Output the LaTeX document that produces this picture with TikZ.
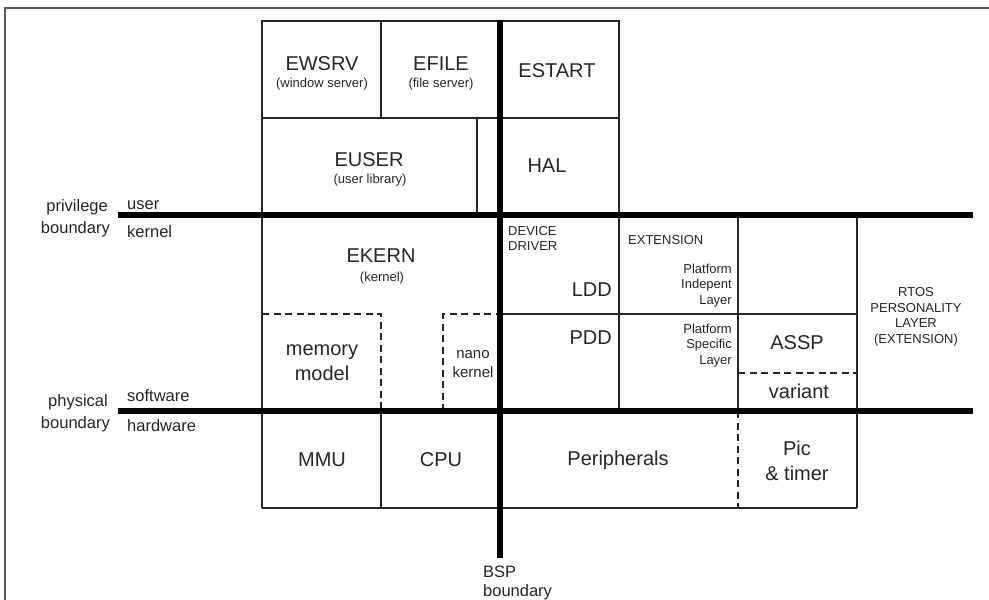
\documentclass[tikz,border=0pt]{standalone}
\usepackage{fontspec}
\setmainfont{Liberation Sans}
\begin{document}
\begin{tikzpicture}[x=1pt,y=-1pt,
  thinline/.style={line width=1.1pt, draw=black!85},
  bound/.style={line width=6.5pt, draw=black},
  dashline/.style={line width=1.1pt, draw=black!85, dash pattern=on 7pt off 4.5pt},
  big/.style={font=\fontsize{20}{25}\selectfont, text=black!85, inner sep=0pt, align=center},
  small/.style={font=\fontsize{13}{15.5}\selectfont, text=black!85, inner sep=0pt},
  nano/.style={font=\fontsize{15}{19}\selectfont, text=black!85, inner sep=0pt, align=center},
  side/.style={font=\fontsize{16.5}{21}\selectfont, text=black!85, inner sep=0pt}]
\useasboundingbox (0,0) rectangle (989,600);
% outer frame
\draw[line width=1.4pt, black!65] (5,605) -- (5,8) -- (995,8);

% thin solid box lines
\draw[thinline] (262,508) -- (262,21) -- (619,21) -- (619,411);
\draw[thinline] (381,21) -- (381,118);
\draw[thinline] (262,118) -- (619,118);
\draw[thinline] (477,118) -- (477,215);
\draw[thinline] (500,314) -- (857,314);
\draw[thinline] (738,215) -- (738,411);
\draw[thinline] (857,215) -- (857,508);
\draw[thinline] (262,508) -- (857,508);
\draw[thinline] (381,411) -- (381,508);
% dashed lines
\draw[dashline] (262,314) -- (381,314) -- (381,411);
\draw[dashline] (443,411) -- (443,314) -- (500,314);
\draw[dashline] (738,373) -- (857,373);
\draw[dashline] (738,411) -- (738,508);

% boundaries
\draw[bound] (118,215) -- (973,215);
\draw[bound] (118,411) -- (973,411);
\draw[bound] (500,20) -- (500,558);

% user space
\node[big] (ewsrv) at (322,63.5) {EWSRV};
\node[small] (ewsrvs) at (322,84) {(window server)};
\node[big] (efile) at (441,63.5) {EFILE};
\node[small] (efiles) at (441,84) {(file server)};
\node[big] (estart) at (557,70.5) {ESTART};
\node[big] (euser) at (369,159.5) {EUSER};
\node[small] (eusers) at (370,180) {(user library)};
\node[big] (hal) at (547,165.5) {HAL};

% kernel
\node[big] (ekern) at (381,256) {EKERN};
\node[small] (ekerns) at (382,278.5) {(kernel)};
\node[small, align=left, anchor=north west] (dd) at (508,226) {DEVICE\\DRIVER};
\node[big, anchor=east] (ldd) at (612,289.5) {LDD};
\node[big, anchor=east] (pdd) at (612,337.5) {PDD};
\node[big, anchor=base] (mem) at (322,380) {memory\\model};
\node[nano, anchor=base] (nk) at (473,377) {nano\\kernel};
\node[small, anchor=west] (ext) at (628,240) {EXTENSION};
\node[small, align=right, anchor=base east] (pil) at (732,304) {Platform\\Indepent\\Layer};
\node[small, align=right, anchor=base east] (psl) at (732,364) {Platform\\Specific\\Layer};
\node[big] (assp) at (797,342.5) {ASSP};
\node[big, anchor=base] (variant) at (799,398) {variant};
\node[small, align=center, anchor=base] (rtos) at (916,343) {RTOS\\PERSONALITY\\LAYER\\(EXTENSION)};

% hardware
\node[big] (mmu) at (322,460) {MMU};
\node[big] (cpu) at (441,460) {CPU};
\node[big] (periph) at (618,460) {Peripherals};
\node[big, anchor=base] (pic) at (797,480) {Pic\\\& timer};

% side labels
\node[side, anchor=base east] (priv) at (108,211) {privilege};
\node[side, anchor=base east] (privb) at (110,233) {boundary};
\node[side, anchor=base west] (user) at (127,209) {user};
\node[side, anchor=base west] (kern) at (127,237) {kernel};
\node[side, anchor=base east] (phys) at (108,406) {physical};
\node[side, anchor=base east] (physb) at (110,428) {boundary};
\node[side, anchor=base west] (sw) at (127,401) {software};
\node[side, anchor=base west] (hw) at (127,431) {hardware};
\node[side, anchor=base west] (bsp) at (483,577) {BSP};
\node[side, anchor=base west] (bspb) at (483,596) {boundary};
\end{tikzpicture}
\end{document}
